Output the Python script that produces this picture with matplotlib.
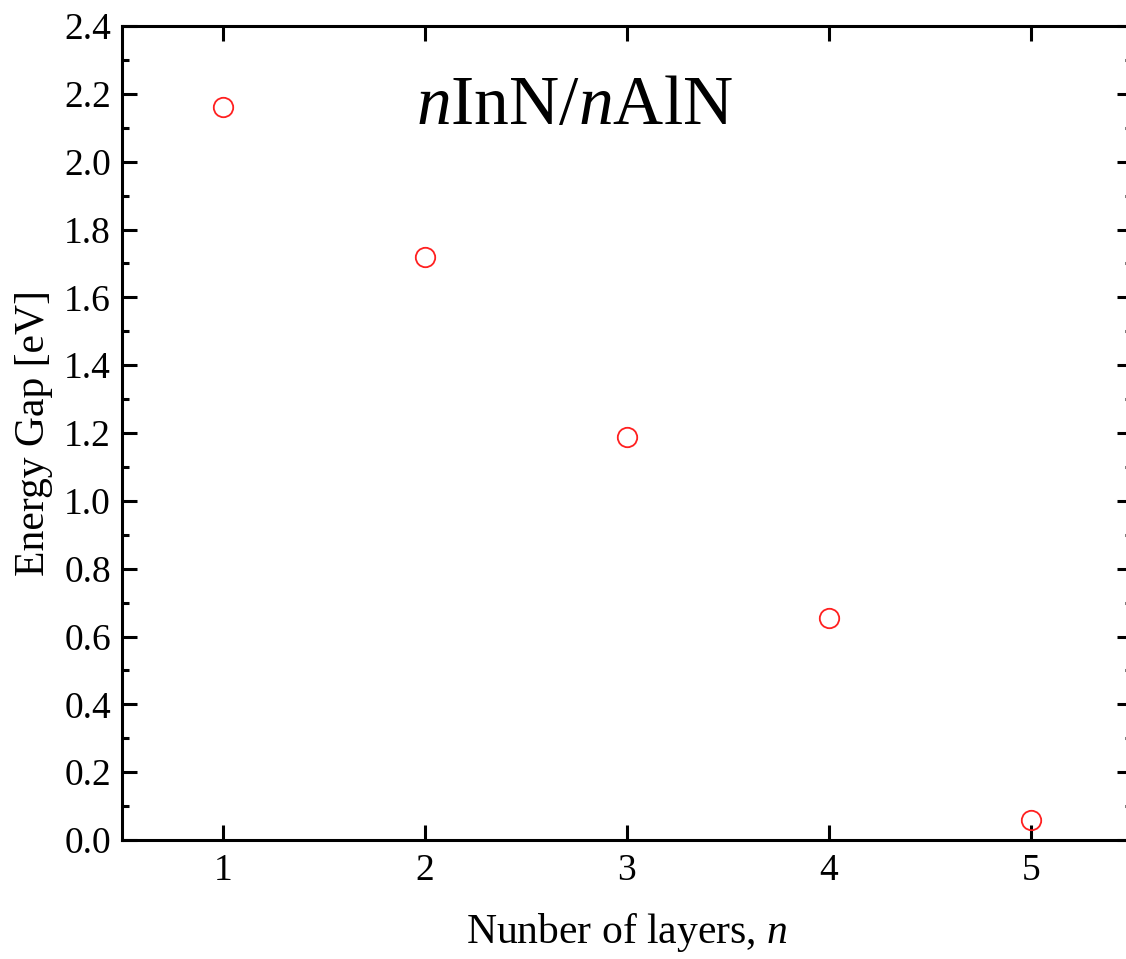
import matplotlib.pyplot as plt
from matplotlib.ticker import MultipleLocator

layers = [1, 2, 3, 4, 5]
energy_gap = [2.161, 1.719, 1.188, 0.654, 0.059]

plt.rcParams['font.family'] = ['Liberation Serif', 'DejaVu Serif']
plt.rcParams['mathtext.fontset'] = 'custom'
plt.rcParams['mathtext.rm'] = 'Liberation Serif'
plt.rcParams['mathtext.it'] = 'Liberation Serif:italic'

fig = plt.figure(figsize=(11.26, 9.59), dpi=100)
ax = fig.add_axes([122 / 1126, 1 - 840 / 959, 1010 / 1126, 814 / 959])

ax.plot(layers, energy_gap, linestyle='none', marker='o', markersize=14,
        markerfacecolor='none', markeredgecolor='#ff2020', markeredgewidth=1.3)

ax.set_xlim(0.5, 5.5)
ax.set_ylim(0, 2.4)
ax.xaxis.set_major_locator(MultipleLocator(1))
ax.yaxis.set_major_locator(MultipleLocator(0.2))
ax.yaxis.set_minor_locator(MultipleLocator(0.1))
ax.yaxis.set_major_formatter(plt.FormatStrFormatter('%.1f'))

for s in ax.spines.values():
    s.set_linewidth(2.2)
ax.tick_params(which='both', direction='in', top=True, right=True, width=2.2, labelsize=27, pad=8)
ax.tick_params(which='major', length=11)
ax.tick_params(which='minor', length=5)
ax.tick_params(axis='x', which='major', pad=10)

ax.set_xlabel(r'Nunber of layers, $\mathit{n}$', fontsize=30, labelpad=16)
ax.set_ylabel('Energy Gap [eV]', fontsize=30, labelpad=8)
ax.text(0.448, 0.9, r'$\mathit{n}$InN/$\mathit{n}$AlN', transform=ax.transAxes,
        fontsize=50, ha='center', va='center')

fig.savefig('out.png', dpi=100)
